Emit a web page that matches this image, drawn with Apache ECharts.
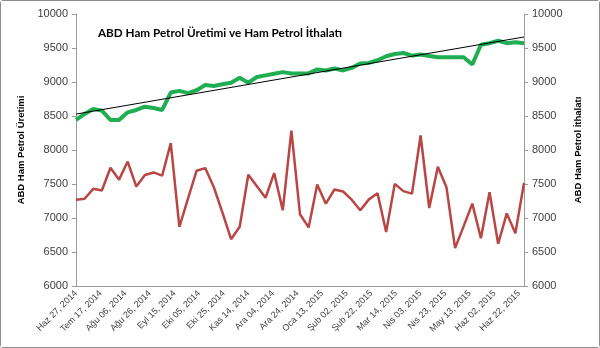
<!DOCTYPE html>
<html>
<head>
<meta charset="utf-8">
<script src="https://cdn.jsdelivr.net/npm/echarts@6/dist/echarts.min.js"></script>
<style>
  html, body { margin: 0; padding: 0; background: #fff; }
  #chart { width: 598px; height: 346px; border: 1px solid #8c8c8c; border-radius: 3px; }
</style>
</head>
<body>
<div id="chart"></div>
<script>
// weekly observations, Haz 27 2014 .. Haz 26 2015
const weeks = [
  "2014-06-27", "2014-07-04", "2014-07-11", "2014-07-18", "2014-07-25", "2014-08-01",
  "2014-08-08", "2014-08-15", "2014-08-22", "2014-08-29", "2014-09-05", "2014-09-12",
  "2014-09-19", "2014-09-26", "2014-10-03", "2014-10-10", "2014-10-17", "2014-10-24",
  "2014-10-31", "2014-11-07", "2014-11-14", "2014-11-21", "2014-11-28", "2014-12-05",
  "2014-12-12", "2014-12-19", "2014-12-26", "2015-01-02", "2015-01-09", "2015-01-16",
  "2015-01-23", "2015-01-30", "2015-02-06", "2015-02-13", "2015-02-20", "2015-02-27",
  "2015-03-06", "2015-03-13", "2015-03-20", "2015-03-27", "2015-04-03", "2015-04-10",
  "2015-04-17", "2015-04-24", "2015-05-01", "2015-05-08", "2015-05-15", "2015-05-22",
  "2015-05-29", "2015-06-05", "2015-06-12", "2015-06-19", "2015-06-26",
];

// ABD ham petrol üretimi (left axis)
const uretim = [
  8443, 8531, 8603, 8579, 8443, 8443, 8554, 8589, 8637, 8618,
  8589, 8845, 8869, 8836, 8879, 8956, 8942, 8966, 8990, 9062,
  8990, 9073, 9097, 9121, 9145, 9126, 9126, 9126, 9185, 9170,
  9199, 9170, 9208, 9272, 9281, 9320, 9378, 9411, 9426, 9388,
  9403, 9382, 9363, 9363, 9363, 9363, 9257, 9548, 9571, 9606,
  9571, 9585, 9571,
];

// ABD ham petrol ithalatı (right axis)
const ithalat = [
  7269, 7283, 7429, 7404, 7738, 7564, 7830, 7462, 7632, 7670,
  7622, 8102, 6871, 7284, 7695, 7734, 7452, 7080, 6688, 6871,
  7637, 7467, 7298, 7661, 7113, 8286, 7055, 6862, 7491, 7211,
  7419, 7390, 7269, 7113, 7274, 7365, 6793, 7502, 7395, 7358,
  8213, 7147, 7753, 7452, 6557, 6881, 7211, 6702, 7380, 6620,
  7068, 6775, 7516,
];

// linear trend of production, end values
const trendStart = 8528;
const trendEnd = 9662;

// x tick labels, one every 20 days from Haz 27, 2014
const tickLabels = [
  "Haz 27, 2014", "Tem 17, 2014", "Ağu 06, 2014", "Ağu 26, 2014", "Eyl 15, 2014",
  "Eki 05, 2014", "Eki 25, 2014", "Kas 14, 2014", "Ara 04, 2014", "Ara 24, 2014",
  "Oca 13, 2015", "Şub 02, 2015", "Şub 22, 2015", "Mar 14, 2015", "Nis 03, 2015",
  "Nis 23, 2015", "May 13, 2015", "Haz 02, 2015", "Haz 22, 2015",
];

const DAY = 86400000;
const t0 = Date.parse(weeks[0]);
const dayOf = (d) => Math.round((Date.parse(d) - t0) / DAY);
const lastDay = dayOf(weeks[weeks.length - 1]);

const font = "'Liberation Sans', Arial, sans-serif";
const txt = "#404040";
const axisGray = "#9a9a9a";

function yAxis(name, position) {
  return {
    type: "value",
    position,
    min: 6000,
    max: 10000,
    interval: 500,
    name,
    nameLocation: "middle",
    nameRotate: 90,
    nameGap: 48,
    nameTextStyle: { fontFamily: font, fontWeight: "bold", fontSize: 9.5, color: "#000" },
    axisLine: { show: true, lineStyle: { color: axisGray } },
    axisTick: { show: true, length: 4, lineStyle: { color: axisGray } },
    axisLabel: { fontFamily: font, fontSize: 11, color: txt, margin: 8, formatter: (v) => String(v) },
    splitLine: { show: false },
  };
}

const option = {
  animation: false,
  backgroundColor: "#fff",
  title: {
    text: "ABD Ham Petrol Üretimi ve Ham Petrol İthalatı",
    left: 92,
    top: 21,
    textStyle: { fontFamily: "Lato, sans-serif", fontWeight: "bold", fontSize: 11.7, color: "#000" },
  },
  grid: { left: 75, right: 75, top: 13, bottom: 61 },
  xAxis: {
    type: "value",
    min: 0,
    max: lastDay,
    interval: 20,
    axisLine: { lineStyle: { color: axisGray } },
    axisTick: { show: false },
    splitLine: { show: false },
    axisLabel: {
      rotate: 45,
      fontFamily: font,
      fontSize: 9,
      color: txt,
      margin: 6,
      showMaxLabel: false,
      formatter: (v) => (v % 20 === 0 ? tickLabels[v / 20] || "" : ""),
    },
  },
  yAxis: [yAxis("ABD Ham Petrol Üretimi", "left"), yAxis("ABD Ham Petrol İthalatı", "right")],
  series: [
    {
      name: "Üretim",
      type: "line",
      yAxisIndex: 0,
      showSymbol: false,
      data: weeks.map((d, i) => [dayOf(d), uretim[i]]),
      lineStyle: { color: "#1fae52", width: 4 },
      itemStyle: { color: "#1fae52" },
      z: 2,
    },
    {
      name: "Trend",
      type: "line",
      yAxisIndex: 0,
      showSymbol: false,
      data: [[0, trendStart], [lastDay, trendEnd]],
      lineStyle: { color: "#000", width: 1 },
      z: 3,
    },
    {
      name: "İthalat",
      type: "line",
      yAxisIndex: 1,
      showSymbol: false,
      data: weeks.map((d, i) => [dayOf(d), ithalat[i]]),
      lineStyle: { color: "#b84644", width: 2.5 },
      itemStyle: { color: "#b84644" },
      z: 2,
    },
  ],
};

const chart = echarts.init(document.getElementById("chart"));
chart.setOption(option);
</script>
</body>
</html>
